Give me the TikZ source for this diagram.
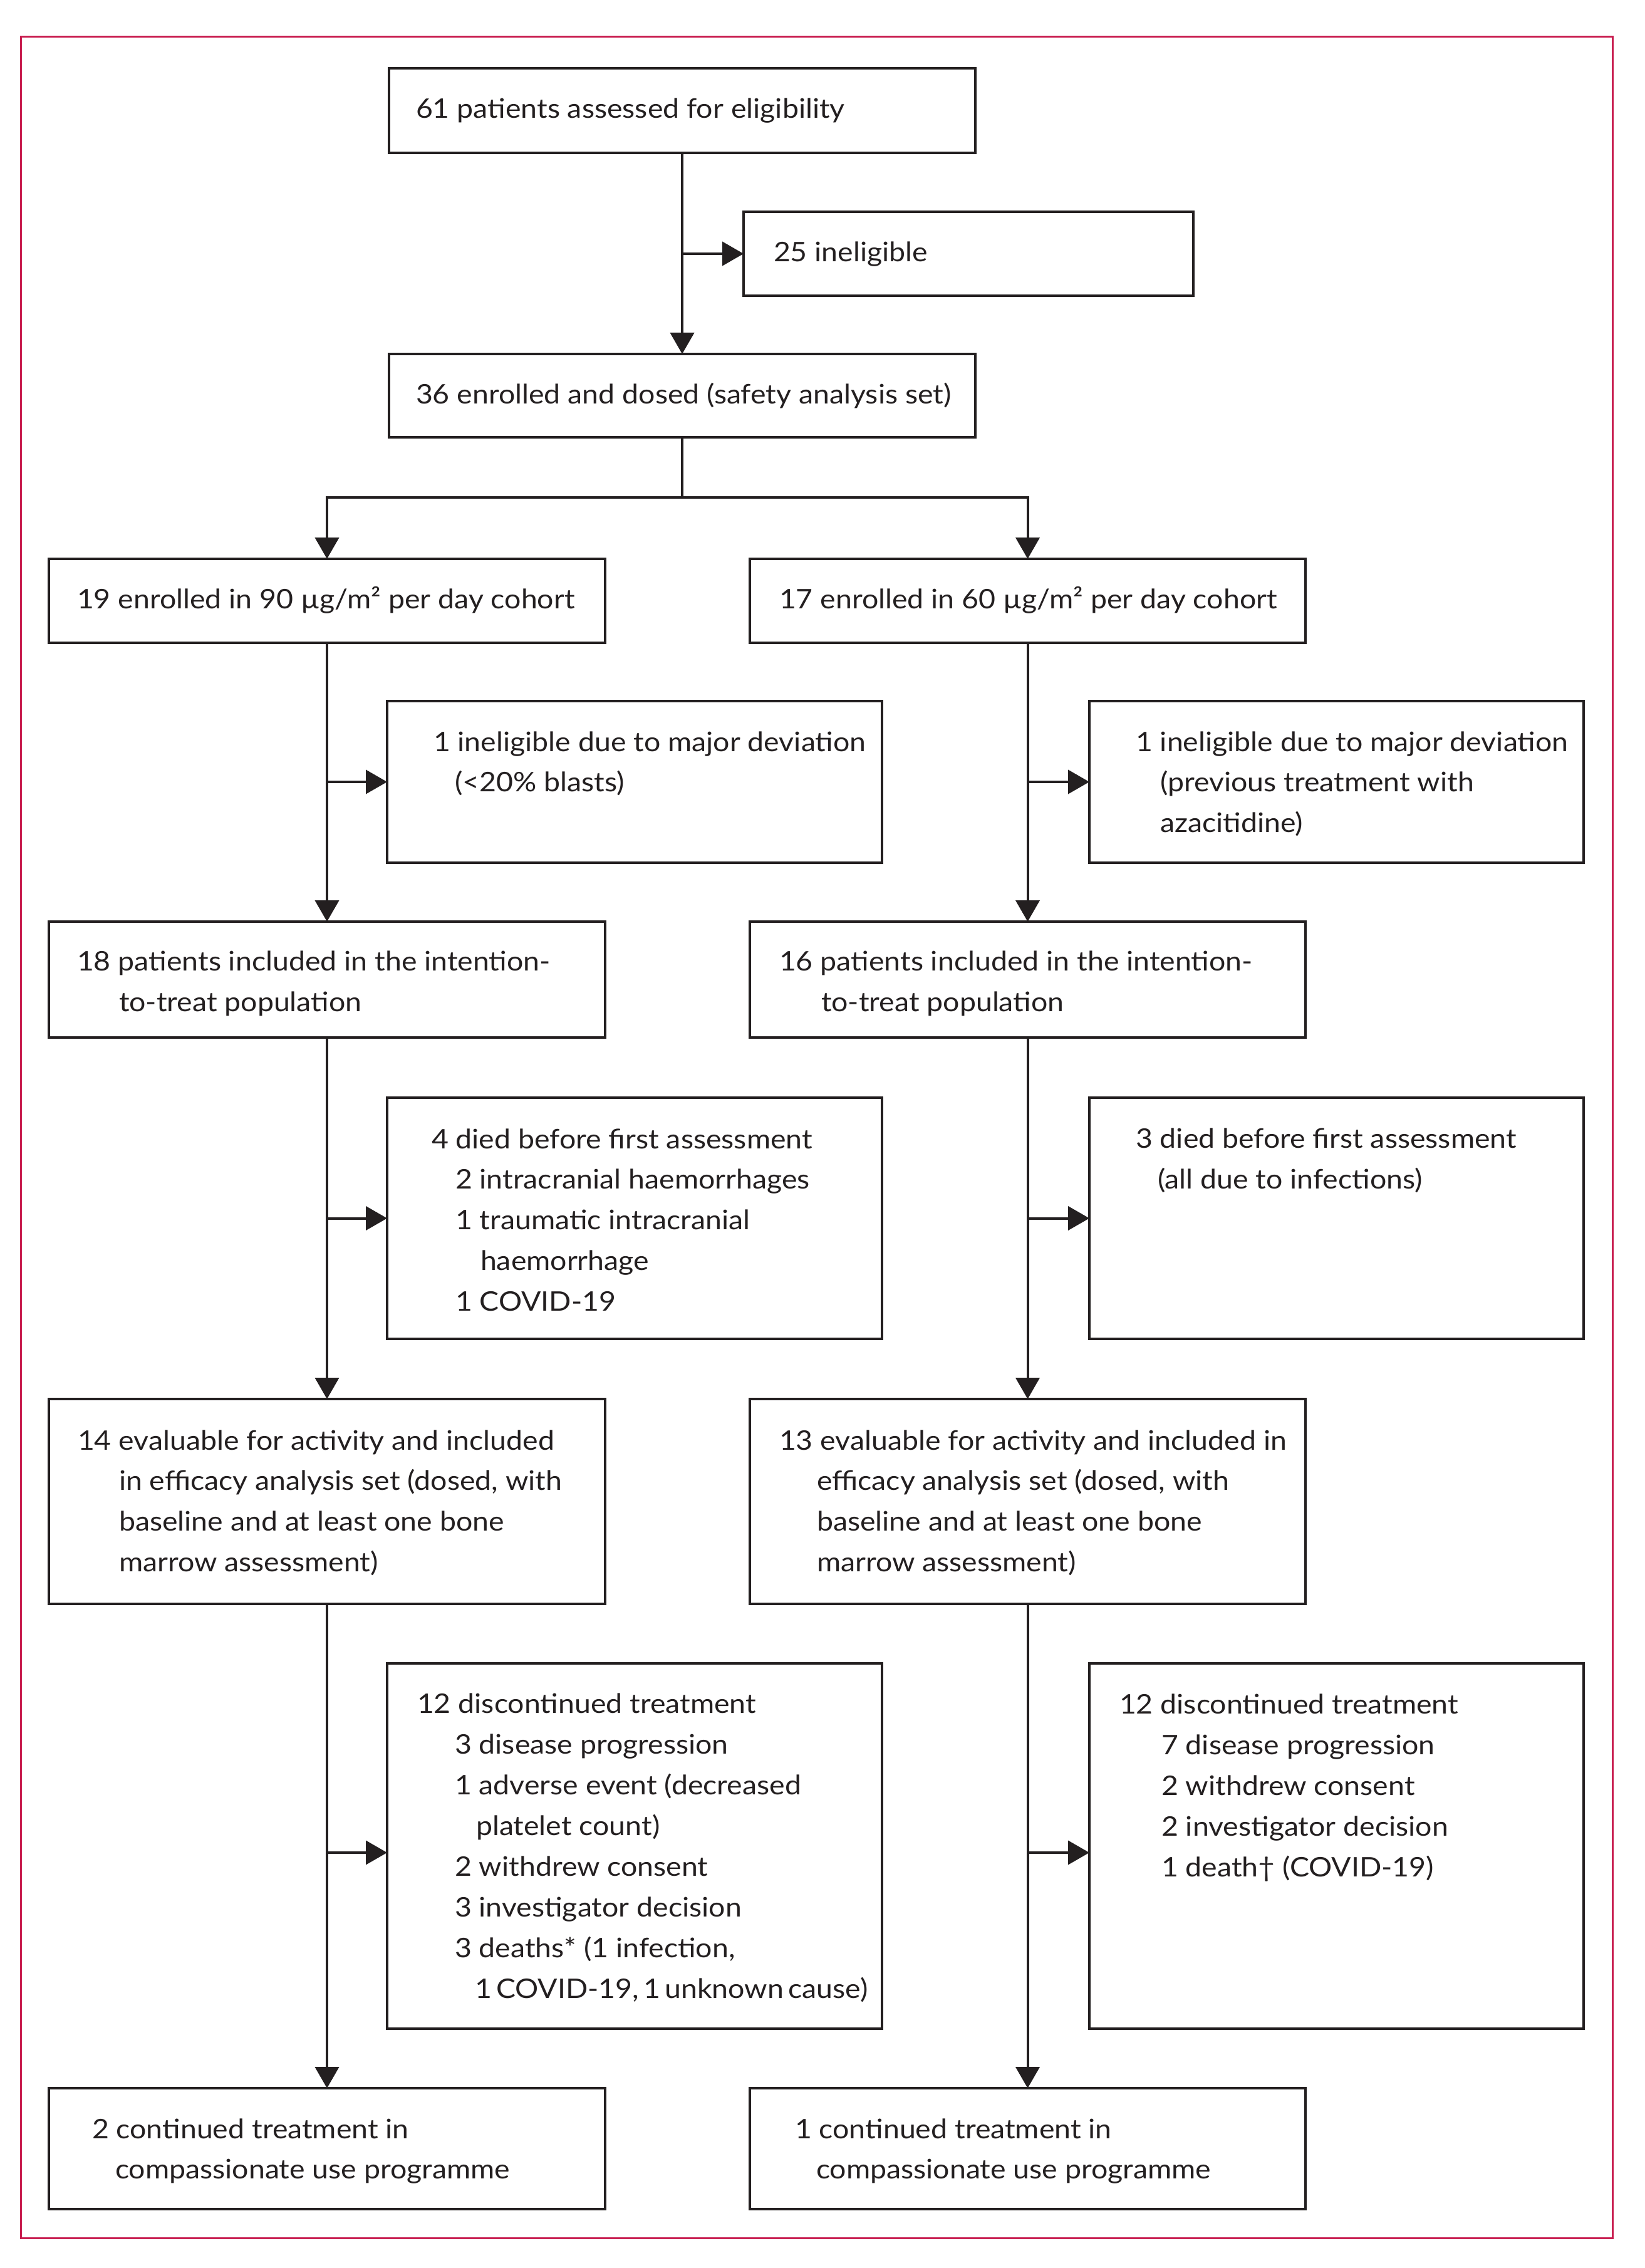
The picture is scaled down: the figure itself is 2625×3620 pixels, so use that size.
\documentclass[tikz,border=0pt]{standalone}
\usepackage{fontspec}
\setmainfont[FakeStretch=1.08]{Lato}
\usetikzlibrary{arrows.meta,fit}
\definecolor{framered}{RGB}{200,30,80}
\definecolor{ink}{RGB}{35,31,32}
\begin{document}
\begin{tikzpicture}[x=0.2pt,y=-0.2pt,
  box/.style={draw=ink, line width=0.8pt, inner sep=0pt, outer sep=0pt},
  txt/.style={anchor=base west, inner sep=0pt, outer sep=0pt, text=ink, font=\fontsize{8.6}{12.9}\selectfont},
  conn/.style={draw=ink, line width=0.8pt},
  arr/.style={conn, -{Triangle[length=6.8pt,width=7.6pt]}},
  frame/.style={draw=framered, line width=0.6pt}]
\useasboundingbox (0,0) rectangle (2625,3620);
\draw[frame] (33.5,59) rectangle (2574,3572);

% boxes
\node[box, fit={(621,109)(1557,244)}] (b1) {};
\node[box, fit={(1187,338)(1905,472)}] (b2) {};
\node[box, fit={(621,565)(1557,698)}] (b3) {};
\node[box, fit={(78,892)(966,1026)}] (b4l) {};
\node[box, fit={(1197,892)(2084,1026)}] (b4r) {};
\node[box, fit={(618,1119)(1408,1377)}] (b5l) {};
\node[box, fit={(1739,1119)(2528,1377)}] (b5r) {};
\node[box, fit={(78,1471)(966,1656)}] (b6l) {};
\node[box, fit={(1197,1471)(2084,1656)}] (b6r) {};
\node[box, fit={(618,1752)(1408,2137)}] (b7l) {};
\node[box, fit={(1739,1752)(2528,2137)}] (b7r) {};
\node[box, fit={(78,2233)(966,2560)}] (b8l) {};
\node[box, fit={(1197,2233)(2084,2560)}] (b8r) {};
\node[box, fit={(618,2655)(1408,3238)}] (b9l) {};
\node[box, fit={(1739,2655)(2528,3238)}] (b9r) {};
\node[box, fit={(78,3333)(966,3526)}] (b10l) {};
\node[box, fit={(1197,3333)(2084,3526)}] (b10r) {};

% texts
\node[txt] (t1) at (664,189) {61 patients assessed for eligibility};
\node[txt] (t2) at (1235,418) {25 ineligible};
\node[txt] (t3) at (664,645) {36 enrolled and dosed (safety analysis set)};
\node[txt] (t4l) at (123,972) {19 enrolled in 90 µg/m² per day cohort};
\node[txt] (t4r) at (1244,972) {17 enrolled in 60 µg/m² per day cohort};
\node[txt] (t5la) at (692,1199) {1 ineligible due to major deviation};
\node[txt] (t5lb) at (726,1263) {(<20\% blasts)};
\node[txt] (t5ra) at (1813,1199) {1 ineligible due to major deviation};
\node[txt] (t5rb) at (1852,1263) {(previous treatment with};
\node[txt] (t5rc) at (1852,1328) {azacitidine)};
\node[txt] (t6la) at (123,1549) {18 patients included in the intention-};
\node[txt] (t6lb) at (190,1614) {to-treat population};
\node[txt] (t6ra) at (1244,1549) {16 patients included in the intention-};
\node[txt] (t6rb) at (1311,1614) {to-treat population};
\node[txt] (t7la) at (689,1833) {4 died before first assessment};
\node[txt] (t7lb) at (727,1897) {2 intracranial haemorrhages};
\node[txt] (t7lc) at (727,1962) {1 traumatic intracranial};
\node[txt] (t7ld) at (767,2027) {haemorrhage};
\node[txt] (t7le) at (727,2092) {1 COVID-19};
\node[txt] (t7ra) at (1813,1832) {3 died before first assessment};
\node[txt] (t7rb) at (1848,1897) {(all due to infections)};
\node[txt] (t8la) at (124,2314) {14 evaluable for activity and included};
\node[txt] (t8lb) at (190,2378) {in efficacy analysis set (dosed, with};
\node[txt] (t8lc) at (190,2443) {baseline and at least one bone};
\node[txt] (t8ld) at (190,2508) {marrow assessment)};
\node[txt] (t8ra) at (1244,2314) {13 evaluable for activity and included in};
\node[txt] (t8rb) at (1304,2378) {efficacy analysis set (dosed, with};
\node[txt] (t8rc) at (1304,2443) {baseline and at least one bone};
\node[txt] (t8rd) at (1304,2508) {marrow assessment)};
\node[txt] (t9la) at (666,2734) {12 discontinued treatment};
\node[txt] (t9lb) at (726,2799) {3 disease progression};
\node[txt] (t9lc) at (726,2864) {1 adverse event (decreased};
\node[txt] (t9ld) at (760,2929) {platelet count)};
\node[txt] (t9le) at (726,2994) {2 withdrew consent};
\node[txt] (t9lf) at (726,3059) {3 investigator decision};
\node[txt] (t9lg) at (726,3124) {3 deaths* (1 infection,};
\node[txt] (t9lh) at (758,3189) {\spaceskip=0.6\fontdimen2\font 1 COVID-19, 1 unknown cause)};
\node[txt] (t9ra) at (1787,2735) {12 discontinued treatment};
\node[txt] (t9rb) at (1854,2800) {7 disease progression};
\node[txt] (t9rc) at (1854,2865) {2 withdrew consent};
\node[txt] (t9rd) at (1854,2930) {2 investigator decision};
\node[txt] (t9re) at (1854,2995) {1 death† (COVID-19)};
\node[txt] (t10la) at (147,3413) {2 continued treatment in};
\node[txt] (t10lb) at (184,3477) {compassionate use programme};
\node[txt] (t10ra) at (1269,3413) {1 continued treatment in};
\node[txt] (t10rb) at (1303,3477) {compassionate use programme};

% connectors
\draw[arr] (b1.south) -- (b3.north);
\draw[arr] (b1.south |- b2.west) -- (b2.west);
\coordinate (split) at (b3.south |- 0,794);
\draw[conn] (b3.south) -- (split);
\draw[arr] (split) -| (b4l.north);
\draw[arr] (split) -| (b4r.north);

\draw[arr] (b4l.south) -- (b6l.north);
\draw[arr] (b4l.south |- b5l.west) -- (b5l.west);
\draw[arr] (b6l.south) -- (b8l.north);
\draw[arr] (b6l.south |- b7l.west) -- (b7l.west);
\draw[arr] (b8l.south) -- (b10l.north);
\draw[arr] (b8l.south |- 0,2957) -- (b9l.west |- 0,2957);

\draw[arr] (b4r.south) -- (b6r.north);
\draw[arr] (b4r.south |- b5r.west) -- (b5r.west);
\draw[arr] (b6r.south) -- (b8r.north);
\draw[arr] (b6r.south |- b7r.west) -- (b7r.west);
\draw[arr] (b8r.south) -- (b10r.north);
\draw[arr] (b8r.south |- 0,2957) -- (b9r.west |- 0,2957);
\end{tikzpicture}
\end{document}
